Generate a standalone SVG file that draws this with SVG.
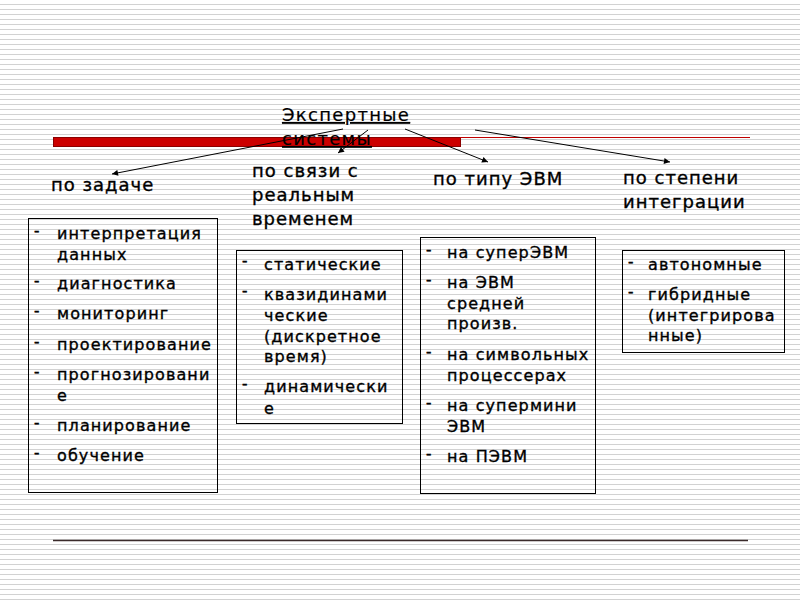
<svg xmlns="http://www.w3.org/2000/svg" width="800" height="600" viewBox="0 0 800 600">
<defs>
<pattern id="stripes" x="0" y="0" width="800" height="5" patternUnits="userSpaceOnUse">
<rect x="0" y="4" width="800" height="1" fill="#d2d2d2"/>
</pattern>
<marker id="arr" viewBox="0 0 10 10" refX="10" refY="5" markerWidth="7" markerHeight="6" markerUnits="userSpaceOnUse" orient="auto">
<path d="M0,0 L10,5 L0,10 z" fill="#000"/>
</marker>
<style>
text{font-family:"DejaVu Sans","Noto Sans",sans-serif;fill:#000;}
.title{font-size:18px;letter-spacing:1.3px;text-decoration:underline;stroke:#000;stroke-width:0.2px;}
.head{font-size:18px;letter-spacing:1px;stroke:#000;stroke-width:0.35px;}
.item{font-size:16px;letter-spacing:1.1px;stroke:#000;stroke-width:0.35px;}
.dash{font-size:15px;stroke:#000;stroke-width:0.5px;}
.box{fill:none;stroke:#000;stroke-width:1;}
.conn{stroke:#000;stroke-width:1;fill:none;marker-end:url(#arr);}
</style>
</defs>
<rect width="800" height="600" fill="#fff"/>
<rect width="800" height="600" fill="url(#stripes)"/>
<rect x="53.5" y="137.5" width="407" height="9" fill="#cc0000" stroke="#8a0000" stroke-width="1"/>
<line x1="460" y1="137.5" x2="750" y2="137.5" stroke="#c00000" stroke-width="1"/>
<line x1="53" y1="540.5" x2="748" y2="540.5" stroke="#3a2a2a" stroke-width="1.5"/>

<g id="connectors">
<line class="conn" x1="343" y1="129" x2="112" y2="174"/>
<line class="conn" x1="368" y1="130" x2="338" y2="153"/>
<line class="conn" x1="405" y1="129" x2="488" y2="162"/>
<line class="conn" x1="475" y1="130" x2="670" y2="162"/>
</g>

<g id="root">
<text class="title" x="282" y="121">Экспертные</text>
<text class="title" x="282" y="145">системы</text>
</g>

<g id="head-task"><text class="head" x="51" y="191">по задаче</text></g>
<g id="head-time">
<text class="head" x="252" y="177">по связи с</text>
<text class="head" x="252" y="201">реальным</text>
<text class="head" x="252" y="225">временем</text>
</g>
<g id="head-evm"><text class="head" x="433" y="185">по типу ЭВМ</text></g>
<g id="head-integ">
<text class="head" x="623" y="184">по степени</text>
<text class="head" x="623" y="208">интеграции</text>
</g>

<g id="box-task">
<rect class="box" x="28.5" y="218.5" width="189" height="274"/>
<text class="dash" x="34" y="236">-</text><text class="item" x="57" y="239">интерпретация</text>
<text class="item" x="57" y="260">данных</text>
<text class="dash" x="34" y="286">-</text><text class="item" x="57" y="289">диагностика</text>
<text class="dash" x="34" y="316">-</text><text class="item" x="57" y="319">мониторинг</text>
<text class="dash" x="34" y="347">-</text><text class="item" x="57" y="350">проектирование</text>
<text class="dash" x="34" y="377">-</text><text class="item" x="57" y="380">прогнозировани</text>
<text class="item" x="57" y="401">е</text>
<text class="dash" x="34" y="428">-</text><text class="item" x="57" y="431">планирование</text>
<text class="dash" x="34" y="458">-</text><text class="item" x="57" y="461">обучение</text>
</g>

<g id="box-time">
<rect class="box" x="236.5" y="250.5" width="166" height="173"/>
<text class="dash" x="242" y="266">-</text><text class="item" x="264" y="269.5">статические</text>
<text class="dash" x="242" y="296">-</text><text class="item" x="264" y="299.5">квазидинами</text>
<text class="item" x="264" y="320.5">ческие</text>
<text class="item" x="264" y="341.5">(дискретное</text>
<text class="item" x="264" y="362">время)</text>
<text class="dash" x="242" y="389">-</text><text class="item" x="264" y="392">динамически</text>
<text class="item" x="264" y="413.5">е</text>
</g>

<g id="box-evm">
<rect class="box" x="420.5" y="237.5" width="175" height="256"/>
<text class="dash" x="426" y="255">-</text><text class="item" x="447" y="258">на суперЭВМ</text>
<text class="dash" x="426" y="285">-</text><text class="item" x="447" y="288">на ЭВМ</text>
<text class="item" x="447" y="308.5">средней</text>
<text class="item" x="447" y="329">произв.</text>
<text class="dash" x="426" y="357">-</text><text class="item" x="447" y="360">на символьных</text>
<text class="item" x="447" y="380.5">процессерах</text>
<text class="dash" x="426" y="408">-</text><text class="item" x="447" y="411">на супермини</text>
<text class="item" x="447" y="431.5">ЭВМ</text>
<text class="dash" x="426" y="459">-</text><text class="item" x="447" y="462">на ПЭВМ</text>
</g>

<g id="box-integ">
<rect class="box" x="622.5" y="250.5" width="162" height="102"/>
<text class="dash" x="628" y="267">-</text><text class="item" x="648" y="270">автономные</text>
<text class="dash" x="628" y="297">-</text><text class="item" x="648" y="300">гибридные</text>
<text class="item" x="648" y="320.5">(интегрирова</text>
<text class="item" x="648" y="341">нные)</text>
</g>
</svg>
